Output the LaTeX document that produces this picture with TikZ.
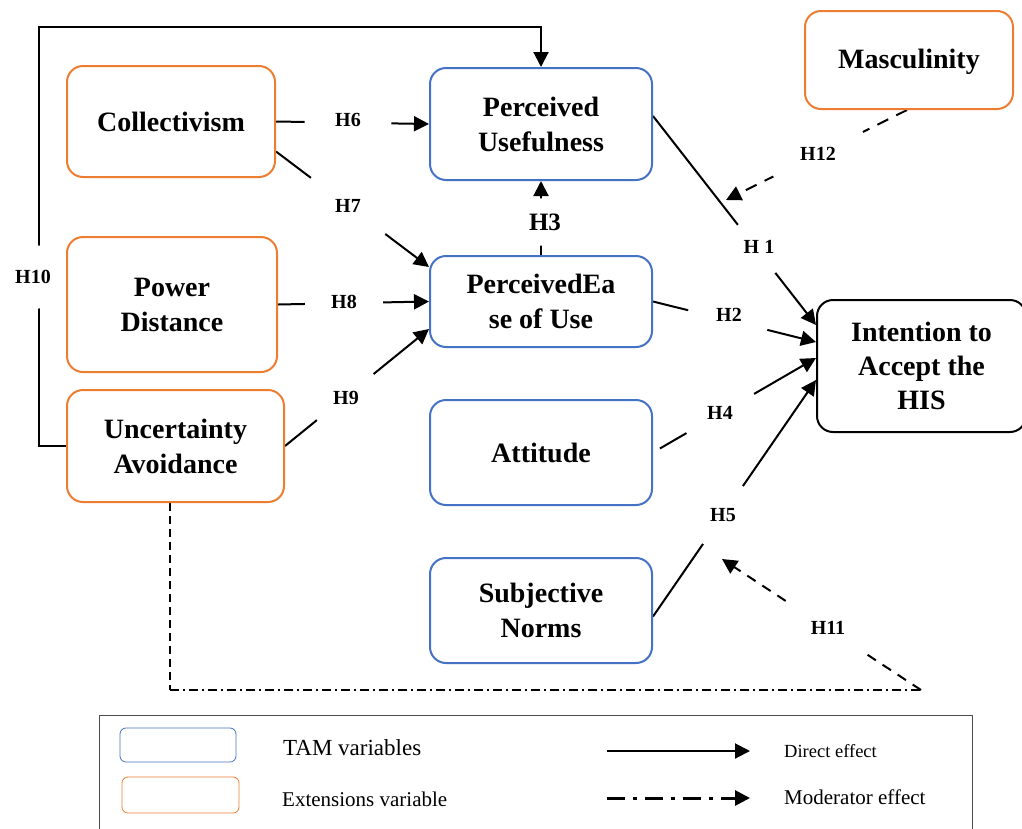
\documentclass[tikz,border=0pt]{standalone}
\usepackage{fontspec}
\setmainfont{Liberation Serif}
\usetikzlibrary{arrows.meta,calc,backgrounds}
\definecolor{tamblue}{HTML}{4472C4}
\definecolor{extorange}{HTML}{ED7D31}
\begin{document}
\begin{tikzpicture}[x=1pt,y=-1pt,line join=round,
  box/.style={draw,rounded corners=16pt,line width=2pt,inner sep=0pt,align=center,
    font=\bfseries\fontsize{28}{35}\selectfont},
  tambox/.style={box,draw=tamblue},
  extbox/.style={box,draw=extorange},
  hl/.style={circle,fill=white,inner sep=0pt,font=\bfseries\fontsize{20}{24}\selectfont},
  arr/.style={line width=2pt,-{Triangle[length=15pt,width=15pt]}},
  legtext/.style={anchor=west,inner sep=0pt}
]
\useasboundingbox (0,0) rectangle (1022,828);

% boxes
\node[extbox,minimum width=208pt,minimum height=111pt] (coll) at (171,121.5) {Collectivism};
\node[tambox,minimum width=222pt,minimum height=112pt] (pu) at (541,124) {Perceived\\Usefulness};
\node[extbox,minimum width=208pt,minimum height=98pt,text height=24pt] (mas) at (909,60) {Masculinity};
\node[extbox,minimum width=210pt,minimum height=135pt] (pd) at (172,304.5) {Power\\Distance};
\node[tambox,minimum width=222pt,minimum height=91pt] (eou) at (541,301.5) {PerceivedEa\\se of Use};
\node[box,minimum width=209pt,minimum height=132pt,font=\bfseries\fontsize{28}{34}\selectfont] (int) at (921.5,366) {Intention to\\Accept the\\HIS};
\node[extbox,minimum width=217pt,minimum height=112pt] (ua) at (175.5,446) {Uncertainty\\Avoidance};
\node[tambox,minimum width=222pt,minimum height=105pt] (att) at (541,452.5) {Attitude};
\node[tambox,minimum width=222pt,minimum height=105pt] (sn) at (541,610.5) {Subjective\\Norms};

\begin{scope}[on background layer]
  % H10
  \coordinate (tl) at (39,27);
  \draw[arr] (ua.west) -| (tl) -| (pu.north);
  % H6 - H9
  \draw[arr] (coll.east) -- (pu.west);
  \draw[arr] ([yshift=-30pt]coll.east) -- ([yshift=-12pt]eou.north west);
  \draw[arr] (pd.east) -- (eou.west);
  \draw[arr] (ua.east) -- ([yshift=19pt]eou.south west);
  % H3
  \draw[arr] (eou.north) -- (pu.south);
  % H1, H2, H4, H5
  \draw[arr] ([yshift=8pt]pu.east) -- ([yshift=41pt]int.west);
  \draw[arr] (eou.east) -- ([yshift=24pt]int.west);
  \draw[arr,shorten <=8pt] (att.east) -- ([yshift=8pt]int.west);
  \draw[arr] ([yshift=-6pt]sn.east) -- ([yshift=-14pt]int.west);
  % H12
  \coordinate (t12) at (726,200);
  \draw[arr,dash pattern=on 12pt off 9pt] ([xshift=-2pt]mas.south) -- (t12);
  % moderator path and H11
  \coordinate (bl) at (170,690);
  \coordinate (mc) at (921,690);
  \coordinate (t11) at (722,559);
  \draw[line width=1.5pt,dash pattern=on 8pt off 5pt] ([xshift=-5.5pt]ua.south) -- (bl);
  \draw[line width=1.5pt,dash pattern=on 9pt off 4pt on 2pt off 4pt] (bl) -- (mc);
  \draw[arr,dash pattern=on 10pt off 8pt] (mc) -- (t11);
  % labels
  \node[hl,minimum size=87pt] (h6) at (348,120) {H6};
  \node[hl,minimum size=93pt] (h7) at (348,206) {H7};
  \node[hl,minimum size=78pt] (h8) at (344,302) {H8};
  \node[hl,minimum size=73pt] (h9) at (346,398) {H9};
  \node[hl,minimum size=48pt,font=\bfseries\fontsize{25}{30}\selectfont] (h3) at (545,222) {H3};
  \node[hl,minimum size=64pt] (h10) at (33,277) {H10};
  \node[hl,minimum size=61pt] (h1) at (759,247) {H 1};
  \node[hl,minimum size=82pt] (h2) at (729,315) {H2};
  \node[hl,minimum size=78pt] (h4) at (720,413) {H4};
  \node[hl,minimum size=70pt] (h5) at (723,515) {H5};
  \node[hl,minimum size=93pt] (h11) at (828,628) {H11};
  \node[hl,minimum size=100pt] (h12) at (818,154) {H12};
\end{scope}

% legend
\node[draw=gray!60!black,line width=1pt,minimum width=873pt,minimum height=125pt,inner sep=0pt] (leg) at (535.5,777.5) {};
\node[draw=tamblue,rounded corners=6pt,line width=0.8pt,minimum width=116pt,minimum height=34pt,inner sep=0pt] (ltam) at (178,745) {};
\node[draw=extorange,rounded corners=6pt,line width=0.8pt,minimum width=117pt,minimum height=36pt,inner sep=0pt] (lext) at (180.5,795) {};
\node[legtext,font=\fontsize{23}{28}\selectfont] (ttam) at (283,748) {TAM variables};
\node[legtext,font=\fontsize{21}{25}\selectfont] (text) at (282,799) {Extensions variable};
\coordinate (da) at (607,751);
\coordinate (db) at (750,751);
\draw[arr] (da) -- (db);
\node[legtext,font=\fontsize{18.5}{22}\selectfont] (tdir) at (784,751) {Direct effect};
\coordinate (ma) at (607,798);
\coordinate (mb) at (750,798);
\draw[arr,line width=3pt,dash pattern=on 18pt off 8pt on 4pt off 8pt] (ma) -- (mb);
\node[legtext,font=\fontsize{21}{25}\selectfont] (tmod) at (784,797) {Moderator effect};
\end{tikzpicture}
\end{document}
